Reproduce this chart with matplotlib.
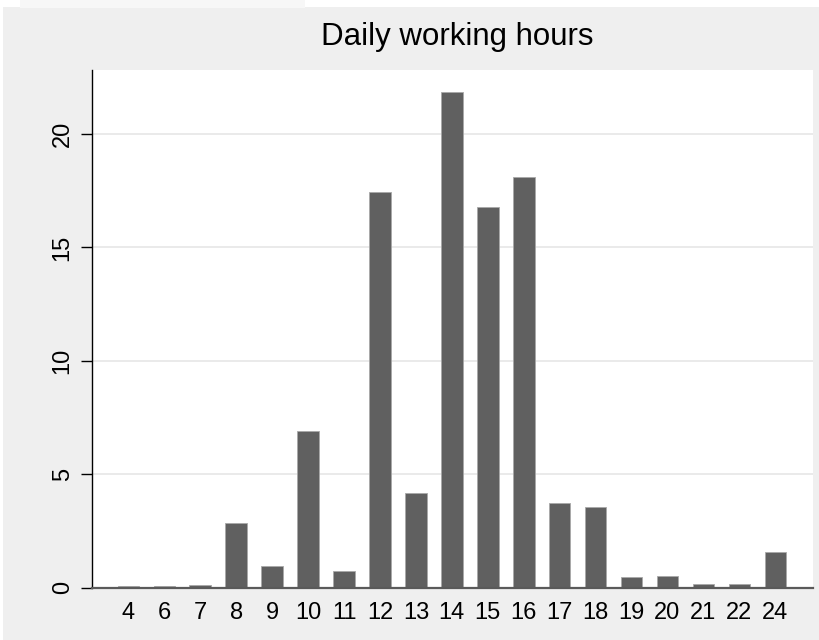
import numpy as np
import matplotlib.pyplot as plt
from matplotlib.patches import Rectangle

hours = ['4', '6', '7', '8', '9', '10', '11', '12', '13', '14',
         '15', '16', '17', '18', '19', '20', '21', '22', '24']
percent = [0.07, 0.07, 0.12, 2.84, 0.96, 6.91, 0.74, 17.45, 4.16, 21.85,
           16.79, 18.09, 3.73, 3.56, 0.46, 0.53, 0.18, 0.18, 1.59]
yticks = [0, 5, 10, 15, 20]

plt.rcParams['font.family'] = ['Liberation Sans', 'DejaVu Sans']

W, H = 819, 640
fig = plt.figure(figsize=(W/100, H/100), dpi=100, facecolor='white')
# stata-ish outer background
fig.patches.append(Rectangle((3/W, 0), 1 - 3/W, 1 - 7/H, transform=fig.transFigure,
                             facecolor='#efefef', edgecolor='none', zorder=-10))
fig.patches.append(Rectangle((20/W, 1 - 8/H), 285/W, 8/H, transform=fig.transFigure,
                             facecolor='#f7f7f7', edgecolor='none', zorder=-10))

ax = fig.add_axes([91.7/W, 1 - 587.7/H, (812.7 - 91.7)/W, (587.7 - 70)/H])
ax.set_facecolor('white')

x = np.arange(len(hours))
ax.bar(x, percent, width=0.6, color='#606060', edgecolor='#a8a8a8', linewidth=0.6, zorder=3)

ax.set_xlim(-1.02, 19.04)
ax.set_ylim(0, 22.82)
ax.set_xticks(x)
ax.set_xticklabels(hours, fontsize=17)
ax.set_yticks(yticks)
ax.set_yticklabels([str(v) for v in yticks], fontsize=17, rotation=90, va='center')

ax.grid(axis='y', color='#e6e6e6', linewidth=1.2, zorder=0)
ax.tick_params(axis='x', length=0, pad=10)
ax.tick_params(axis='y', length=8, width=1, color='black', pad=5)

for s in ['top', 'right']:
    ax.spines[s].set_visible(False)
ax.spines['left'].set_color('black')
ax.spines['left'].set_linewidth(1)
ax.spines['bottom'].set_color('#5a5a5a')
ax.spines['bottom'].set_linewidth(1.6)
ax.spines['bottom'].set_zorder(4)

fig.text(457/W, 1 - 37/H, 'Daily working hours', ha='center', va='center', fontsize=22.5)

plt.savefig('out.png', dpi=100, facecolor=fig.get_facecolor())
